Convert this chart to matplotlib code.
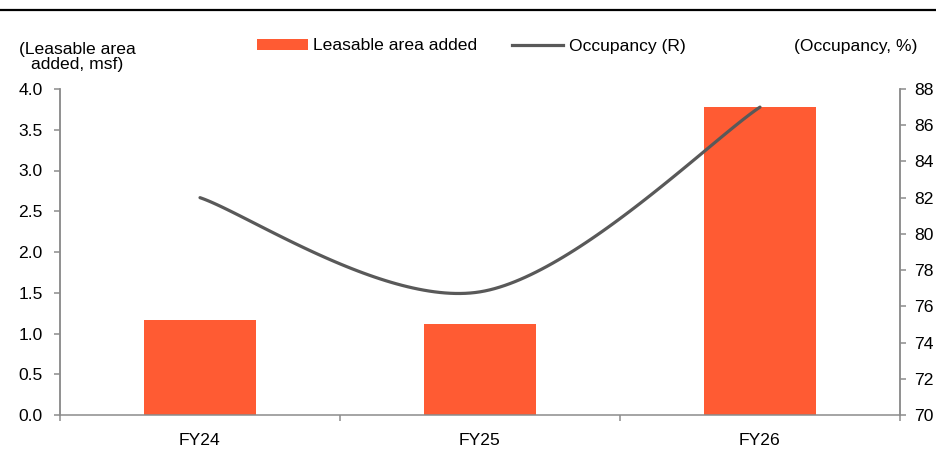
import numpy as np
import matplotlib
matplotlib.use("Agg")
import matplotlib.pyplot as plt
from matplotlib.lines import Line2D
from matplotlib.patches import Patch

categories = ["FY24", "FY25", "FY26"]
leasable_area = [1.17, 1.12, 3.78]
occupancy = [82.0, 76.8, 87.0]

bar_color = "#FF5B33"
line_color = "#595959"
axis_gray = "#8C8C8C"

FS = 12.6
plt.rcParams["font.family"] = ["Liberation Sans", "DejaVu Sans"]
plt.rcParams["font.size"] = FS

fig = plt.figure(figsize=(9.37, 4.5), dpi=100)
ax = fig.add_axes([60/937, 1-415/450, 840/937, 326/450])
ax2 = ax.twinx()

x = np.arange(len(categories))
ax.bar(x, leasable_area, width=0.4, color=bar_color, zorder=2)

# Excel-like smoothed line (Catmull-Rom as cubic Bezier)
def smooth(xs, ys, n=60):
    pts = np.column_stack([xs, ys]).astype(float)
    ext = np.vstack([pts[0], pts, pts[-1]])
    out = []
    for i in range(len(pts) - 1):
        p0, p3 = ext[i+1], ext[i+2]
        c1 = p0 + (ext[i+2] - ext[i]) / 6
        c2 = p3 - (ext[i+3] - ext[i+1]) / 6
        t = np.linspace(0, 1, n)[:, None]
        seg = (1-t)**3*p0 + 3*(1-t)**2*t*c1 + 3*(1-t)*t**2*c2 + t**3*p3
        out.append(seg if i == 0 else seg[1:])
    return np.vstack(out)

curve = smooth(x, occupancy)
ax2.plot(curve[:, 0], curve[:, 1], color=line_color, lw=2.3, solid_capstyle="round", zorder=3)

ax.set_xlim(-0.5, 2.5)
ax.set_ylim(0, 4.0)
yt = np.arange(0, 4.01, 0.5)
ax.set_yticks(yt)
ax.set_yticklabels([f"{v:.1f}" for v in yt])
ax2.set_ylim(70, 88)
ax2.set_yticks(np.arange(70, 89, 2))

ax.set_xticks(x)
ax.set_xticklabels(categories)
ax.set_xticks([-0.5, 0.5, 1.5, 2.5], minor=True)
ax.tick_params(axis="x", which="major", length=0, pad=13)
ax.tick_params(axis="x", which="minor", length=4, width=1.1, color=axis_gray, direction="out")
ax.tick_params(axis="y", length=4.5, width=1.1, color=axis_gray, direction="out", pad=8)
ax2.tick_params(axis="y", length=4.5, width=1.1, color=axis_gray, direction="out", pad=6)

for a in (ax, ax2):
    a.spines["top"].set_visible(False)
    for s in ("left", "right", "bottom"):
        a.spines[s].set_color(axis_gray)
        a.spines[s].set_linewidth(1.1)
ax2.spines["bottom"].set_visible(False)

# axis titles
fig.text(77/937, 1-57/450, "(Leasable area\nadded, msf)", ha="center", va="center",
         multialignment="center", fontsize=FS, linespacing=1.0)
fig.text(856/937, 1-46/450, "(Occupancy, %)", ha="center", va="center", fontsize=FS)

# legend
handles = [Patch(facecolor=bar_color, edgecolor="none"),
           Line2D([0], [0], color=line_color, lw=2.3)]
fig.legend(handles, ["Leasable area added", "Occupancy (R)"], loc="center",
           bbox_to_anchor=(471/937, 1-46/450), ncol=2, frameon=False,
           handlelength=2.95, handleheight=0.65, handletextpad=0.3, columnspacing=1.95,
           fontsize=FS)

# top rule
fig.add_artist(Line2D([0, 1], [1-10/450, 1-10/450], color="black", lw=1.6,
                      transform=fig.transFigure))

fig.savefig("out.png", dpi=100)
